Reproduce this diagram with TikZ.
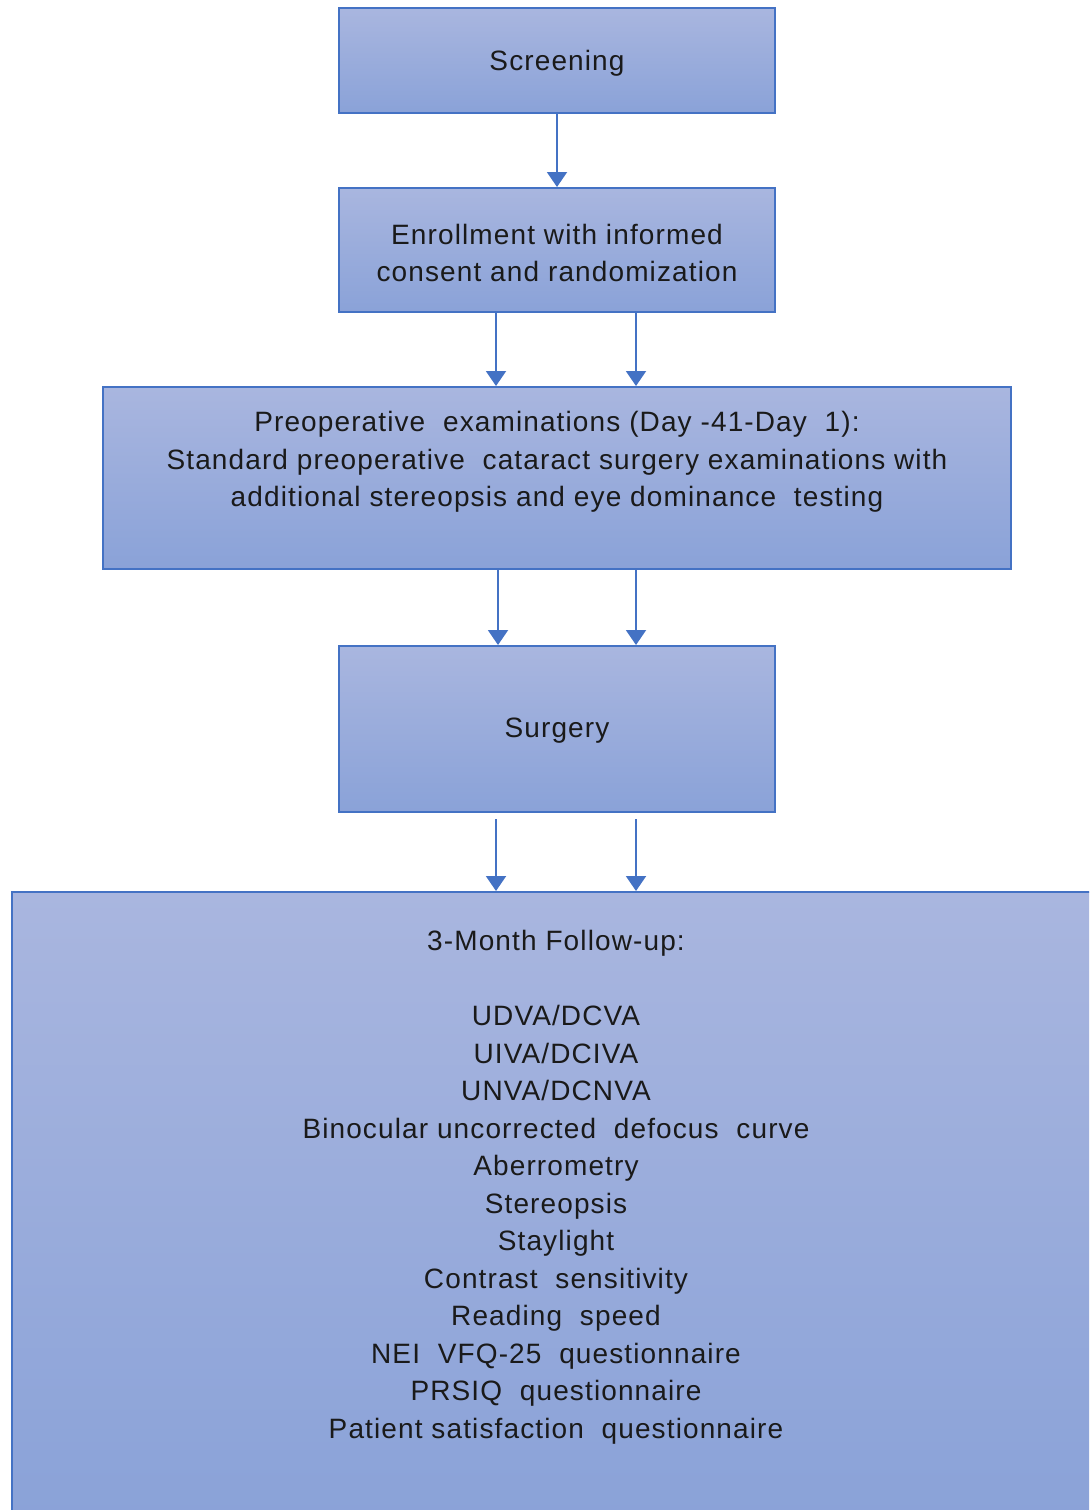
\documentclass[tikz,border=0pt]{standalone}
\usepackage{fontspec}
\setmainfont{Liberation Sans}[LetterSpace=4]
\usetikzlibrary{arrows.meta}
\definecolor{bordc}{HTML}{4472C4}
\definecolor{topc}{HTML}{A9B6DF}
\definecolor{botc}{HTML}{8AA2D8}
\definecolor{txtc}{HTML}{1A1A1A}
\tikzset{
  box/.style={draw=bordc, line width=1pt, top color=topc, bottom color=botc,
    inner sep=0pt},
  arr/.style={draw=bordc, line width=1pt, -{Triangle[width=10pt,length=7.5pt]}},
  lbl/.style={inner sep=0pt, align=center, text=txtc, font=\fontsize{14}{18.75}\selectfont}
}
\begin{document}
\begin{tikzpicture}[x=0.5pt,y=-0.5pt]
\useasboundingbox (0,0) rectangle (1089,1510);
\clip (0,0) rectangle (1089,1510);
\node[box, minimum width=218pt, minimum height=52.5pt] (scr) at (557,60.5) {};
\node[lbl] (scrtext) at (557,63.5) {Screening};
\node[box, minimum width=218pt, minimum height=62pt] (enr) at (557,250) {};
\node[lbl] (enrtext) at (557,253) {Enrollment with informed\\consent and randomization};
\node[box, minimum width=454pt, minimum height=91pt] (pre) at (557,478) {};
\node[lbl] (pretext) at (557,462) {Preoperative \ examinations (Day -41-Day \ 1):\\Standard preoperative \ cataract surgery examinations with\\additional stereopsis and eye dominance \ testing};
\node[box, minimum width=218pt, minimum height=83pt] (sur) at (557,729) {};
\node[lbl] (surtext) at (557,731) {Surgery};
\node[box, minimum width=544pt, minimum height=314pt] (fu) at (556,1206) {};
\node[lbl] (futext) at (556,1187) {3-Month Follow-up:\\[18.75pt]
UDVA/DCVA\\UIVA/DCIVA\\UNVA/DCNVA\\Binocular uncorrected \ defocus \ curve\\Aberrometry\\Stereopsis\\Staylight\\Contrast \ sensitivity\\Reading \ speed\\NEI \ VFQ-25 \ questionnaire\\PRSIQ \ questionnaire\\Patient satisfaction \ questionnaire};
\coordinate (xm) at (557,0);
\coordinate (xa) at (496,0);
\coordinate (xb) at (636,0);
\coordinate (xc) at (498,0);
\draw[arr] (scr.south -| xm) -- (enr.north -| xm);
\draw[arr] (enr.south -| xa) -- (pre.north -| xa);
\draw[arr] (enr.south -| xb) -- (pre.north -| xb);
\draw[arr] (pre.south -| xc) -- (sur.north -| xc);
\draw[arr] (pre.south -| xb) -- (sur.north -| xb);
\draw[arr, shorten <=3pt] (sur.south -| xa) -- (fu.north -| xa);
\draw[arr, shorten <=3pt] (sur.south -| xb) -- (fu.north -| xb);
\end{tikzpicture}
\end{document}
